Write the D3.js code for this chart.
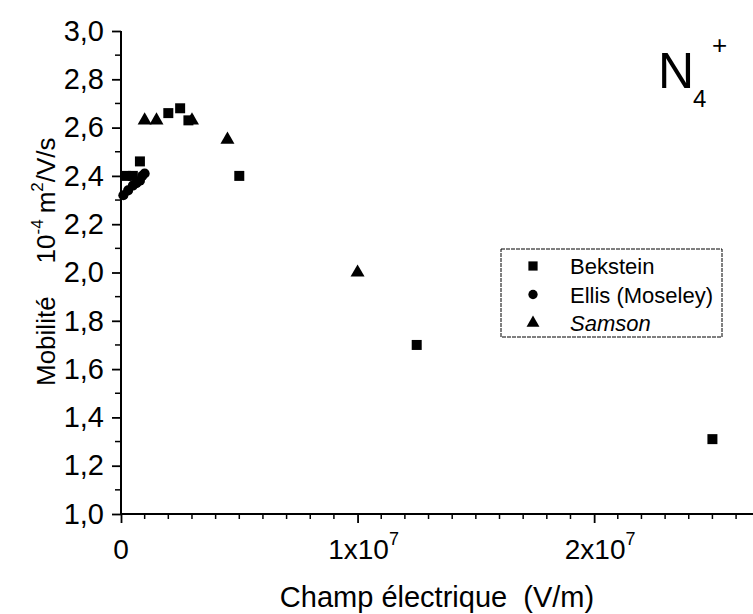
<!DOCTYPE html>
<html><head><meta charset="utf-8">
<script src="https://cdn.jsdelivr.net/npm/d3@7"></script>
<style>
body{margin:0;background:#fff}
svg{display:block;font-family:"Liberation Sans",Arial,sans-serif}
</style></head>
<body><svg id="c" width="753" height="614"></svg>
<script>
// Data (field in V/m, mobility in 1e-4 m2/V/s)
const beksteinX = [0.2e6, 0.5e6, 0.8e6, 2.0e6, 2.5e6, 2.85e6, 5.0e6, 12.5e6, 25.0e6];
const beksteinY = [2.40, 2.40, 2.46, 2.66, 2.68, 2.63, 2.40, 1.70, 1.31];
const ellisX = [0.1e6, 0.3e6, 0.5e6, 0.65e6, 0.8e6, 0.9e6, 1.0e6];
const ellisY = [2.32, 2.34, 2.36, 2.37, 2.38, 2.40, 2.41];
const samsonX = [1.0e6, 1.5e6, 3.0e6, 4.5e6, 10.0e6];
const samsonY = [2.63, 2.63, 2.63, 2.55, 2.00];
const yTicks = [1.0, 1.2, 1.4, 1.6, 1.8, 2.0, 2.2, 2.4, 2.6, 2.8, 3.0];
const xTicks = [0, 1e7, 2e7];
const xTickLabels = ["0", "1x10|7", "2x10|7"];
const seriesNames = ["Bekstein", "Ellis (Moseley)", "Samson"];

const svg = d3.select("#c");
const x = d3.scaleLinear().domain([0, 2.68e7]).range([121, 755]);
const y = d3.scaleLinear().domain([1, 3]).range([514, 31]);

// Y axis
const yMinor = d3.range(1.1, 3.0, 0.2);
const gy = svg.append("g").attr("transform", "translate(121,0)");
gy.call(d3.axisLeft(y).tickValues(yTicks).tickSize(9).tickPadding(8).tickFormat(d => d3.format(".1f")(d).replace(".", ",")));
gy.select(".domain").attr("stroke-width", 2).attr("d", `M0,${y(1)}V${y(3)}`);
gy.selectAll(".tick line").attr("stroke-width", 1.8);
gy.selectAll(".tick text").attr("font-size", 29).attr("font-family", "Liberation Sans, Arial").attr("fill", "#000");
gy.selectAll(".minor").data(yMinor).enter().append("line")
  .attr("x1", 0).attr("x2", -6).attr("y1", d => y(d)).attr("y2", d => y(d))
  .attr("stroke", "#000").attr("stroke-width", 1.5);

// X axis
const xMinor = d3.range(1e6, 2.7e7, 1e6).filter(d => d % 1e7 !== 0);
const gx = svg.append("g").attr("transform", `translate(0,${y(1)})`);
gx.call(d3.axisBottom(x).tickValues(xTicks).tickSize(9).tickFormat(""));
gx.select(".domain").attr("stroke-width", 2).attr("d", `M${x(0)},0H753`);
gx.selectAll(".tick line").attr("stroke-width", 1.8);
gx.selectAll(".minor").data(xMinor).enter().append("line")
  .attr("y1", 0).attr("y2", 5).attr("x1", d => x(d)).attr("x2", d => x(d))
  .attr("stroke", "#000").attr("stroke-width", 1.5);
xTicks.forEach((t, i) => {
  const parts = xTickLabels[i].split("|");
  const tx = svg.append("text").attr("x", x(t)).attr("y", 559).attr("font-size", 28)
    .attr("text-anchor", "middle").attr("fill", "#000");
  tx.append("tspan").text(parts[0]);
  if (parts[1]) { tx.append("tspan").attr("font-size", 18).attr("dy", -14).text(parts[1]); tx.attr("dx", 6); }
});

// Axis titles
svg.append("text").attr("x", 437).attr("y", 607).attr("text-anchor", "middle")
  .attr("font-size", 29).attr("fill", "#000").attr("xml:space", "preserve").text("Champ électrique  (V/m)");
const yl = svg.append("text").attr("transform", "translate(55,386) rotate(-90)")
  .attr("text-anchor", "start").attr("font-size", 26).attr("fill", "#000");
yl.append("tspan").text("Mobilité");
yl.append("tspan").attr("dx", 33).text("10");
yl.append("tspan").attr("font-size", 17).attr("dy", -12).text("-4");
yl.append("tspan").attr("dy", 12).attr("dx", 6).text("m");
yl.append("tspan").attr("font-size", 17).attr("dy", -12).text("2");
yl.append("tspan").attr("dy", 12).text("/V/s");

// Title
svg.append("text").attr("x", 658).attr("y", 88).attr("font-size", 50).attr("fill", "#000").text("N");
svg.append("text").attr("x", 693).attr("y", 107).attr("font-size", 24).attr("fill", "#000").text("4");
svg.append("text").attr("x", 712).attr("y", 54).attr("font-size", 26).attr("fill", "#000").text("+");

// Marks
const sym = [d3.symbolSquare, d3.symbolCircle, d3.symbolTriangle];
const sz = [100, 80, 85];
const sets = [[beksteinX, beksteinY], [ellisX, ellisY], [samsonX, samsonY]];
sets.forEach((s, k) => {
  svg.append("g").selectAll("path").data(s[0].map((v, i) => [v, s[1][i]])).enter().append("path")
    .attr("d", d3.symbol().type(sym[k]).size(sz[k]))
    .attr("transform", d => `translate(${x(d[0])},${y(d[1])})`)
    .attr("fill", "#000");
});

// Legend
const lg = svg.append("g");
lg.append("rect").attr("x", 501).attr("y", 249).attr("width", 221).attr("height", 88)
  .attr("fill", "none").attr("stroke", "#000").attr("stroke-width", 1).attr("stroke-dasharray", "4,1");
seriesNames.forEach((n, k) => {
  const yy = 266 + k * 28.5;
  lg.append("path").attr("d", d3.symbol().type(sym[k]).size(sz[k] * 0.85)).attr("transform", `translate(533,${yy})`).attr("fill", "#000");
  lg.append("text").attr("x", 570).attr("y", yy + 8).attr("font-size", 22).attr("fill", "#000")
    .attr("font-style", k === 2 ? "italic" : "normal").text(n);
});
</script></body></html>
